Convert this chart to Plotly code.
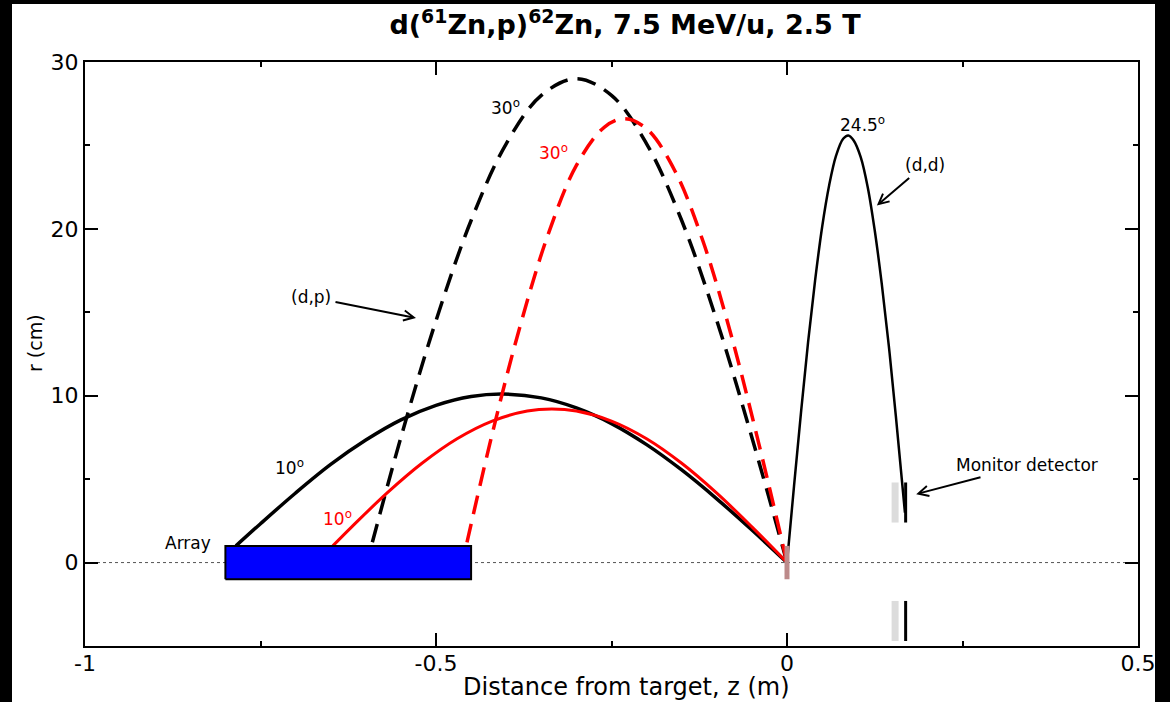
import plotly.graph_objects as go

# ---------------- data ----------------
# (d,p) 30 deg, black dashed
z_dp30_blk = [0.0, -0.05, -0.10, -0.15, -0.20, -0.25, -0.30, -0.35, -0.40, -0.45, -0.50, -0.55, -0.592]
r_dp30_blk = [0.0, 7.5, 14.5, 20.5, 25.1, 28.0, 29.0, 28.0, 25.1, 20.5, 14.5, 7.5, 1.0]
# (d,p) 30 deg, red dashed
z_dp30_red = [0.0, -0.04, -0.08, -0.12, -0.16, -0.20, -0.2315, -0.26, -0.30, -0.34, -0.38, -0.42, -0.457]
r_dp30_red = [0.0, 7.1, 13.7, 19.3, 23.5, 26.0, 26.6, 26.1, 23.8, 19.7, 14.2, 7.7, 1.0]
# (d,p) 10 deg, black solid
z_dp10_blk = [0.0, -0.05, -0.10, -0.15, -0.20, -0.25, -0.30, -0.35, -0.405, -0.45, -0.50, -0.55, -0.60, -0.65, -0.70, -0.75, -0.785]
r_dp10_blk = [0.0, 1.95, 3.82, 5.55, 7.07, 8.33, 9.27, 9.87, 10.1, 9.95, 9.42, 8.55, 7.34, 5.88, 4.17, 2.33, 1.0]
# (d,p) 10 deg, red solid
z_dp10_red = [0.0, -0.05, -0.10, -0.15, -0.20, -0.25, -0.30, -0.335, -0.37, -0.42, -0.47, -0.52, -0.57, -0.62, -0.647]
r_dp10_red = [0.0, 2.14, 4.16, 5.95, 7.42, 8.48, 9.08, 9.2, 9.08, 8.48, 7.42, 5.95, 4.16, 2.14, 1.0]
# (d,d) 24.5 deg, black thin
z_dd = [0.0, 0.01, 0.02, 0.03, 0.04, 0.05, 0.06, 0.07, 0.08, 0.0873, 0.095, 0.105, 0.115, 0.125, 0.135, 0.145, 0.155, 0.168]
r_dd = [0.0, 4.58, 9.02, 13.2, 16.9, 20.1, 22.6, 24.4, 25.4, 25.6, 25.3, 24.3, 22.5, 19.9, 16.7, 13.0, 8.8, 3.0]

# detectors
array_z = [-0.80, -0.45]
array_r = [-1.0, 1.0]
target_z = 0.0
target_r = [-1.0, 1.0]
monitor_gray_z = 0.154
monitor_blk_z = 0.169
monitor_upper_r = [2.4, 4.8]
monitor_lower_r = [-4.7, -2.3]

x_ticks = [-1, -0.5, 0, 0.5]
x_ticktext = ["-1", "-0.5", "0", "0.5"]
y_ticks = [0, 10, 20, 30]

FONT = "DejaVu Sans, Liberation Sans, Arial, sans-serif"

fig = go.Figure()

# dotted baseline r = 0
fig.add_trace(go.Scatter(x=[-1, 0.5], y=[0, 0], mode="lines",
                         line=dict(color="#555555", width=1, dash="dot"), hoverinfo="skip"))

DASH = "19px,10px"
# curves
fig.add_trace(go.Scatter(x=z_dp10_blk, y=r_dp10_blk, mode="lines", line_shape="spline",
                         line=dict(color="black", width=3.5)))
fig.add_trace(go.Scatter(x=z_dp30_blk, y=r_dp30_blk, mode="lines", line_shape="spline",
                         line=dict(color="black", width=3.5, dash=DASH)))
fig.add_trace(go.Scatter(x=z_dp10_red, y=r_dp10_red, mode="lines", line_shape="spline",
                         line=dict(color="#ff0000", width=3)))
fig.add_trace(go.Scatter(x=z_dp30_red, y=r_dp30_red, mode="lines", line_shape="spline",
                         line=dict(color="#ff0000", width=3.5, dash=DASH)))
fig.add_trace(go.Scatter(x=z_dd, y=r_dd, mode="lines", line_shape="spline",
                         line=dict(color="black", width=2.5)))

# array (blue box)
fig.add_trace(go.Scatter(x=[array_z[0], array_z[1], array_z[1], array_z[0], array_z[0]],
                         y=[array_r[0], array_r[0], array_r[1], array_r[1], array_r[0]],
                         mode="lines", fill="toself", fillcolor="#0000ff",
                         line=dict(color="black", width=2)))

# target
fig.add_trace(go.Scatter(x=[target_z, target_z], y=target_r, mode="lines",
                         line=dict(color="#bc8a8a", width=5)))

# monitor detectors
for rr in (monitor_upper_r, monitor_lower_r):
    fig.add_trace(go.Scatter(x=[monitor_gray_z, monitor_gray_z], y=rr, mode="lines",
                             line=dict(color="#dcdcdc", width=7)))
    fig.add_trace(go.Scatter(x=[monitor_blk_z, monitor_blk_z], y=rr, mode="lines",
                             line=dict(color="black", width=3)))

# plot-area geometry in pixels (for paper-referenced placement)
L, R, T, B = 85, 1138, 62, 646
W, H = R - L, B - T
def px(xp):
    return (xp - L) / W
def py(yp):
    return (B - yp) / H

ann_font = dict(family=FONT, size=17, color="black")
arrow_style = dict(xref="x", yref="y", axref="x", ayref="y", showarrow=True,
                   arrowhead=5, arrowsize=1, arrowwidth=2, arrowcolor="black",
                   standoff=0, startstandoff=3, font=ann_font)
annotations = [
    dict(x=-0.4017, y=27.3, text="30<sup>o</sup>", showarrow=False, font=ann_font),
    dict(x=-0.333, y=24.6, text="30<sup>o</sup>", showarrow=False, font=dict(ann_font, color="#ff0000")),
    dict(x=-0.709, y=5.75, text="10<sup>o</sup>", showarrow=False, font=ann_font),
    dict(x=-0.641, y=2.7, text="10<sup>o</sup>", showarrow=False, font=dict(ann_font, color="#ff0000")),
    dict(x=0.107, y=26.3, text="24.5<sup>o</sup>", showarrow=False, font=ann_font),
    dict(x=-0.853, y=1.15, text="Array", showarrow=False, font=ann_font),
    # labels with arrows (text sits at the arrow tail)
    dict(arrow_style, x=0.128, y=21.4, ax=0.1966, ay=23.85, text="(d,d)"),
    dict(arrow_style, x=-0.5285, y=14.66, ax=-0.678, ay=15.9, text="(d,p)"),
    dict(arrow_style, x=0.184, y=4.1, ax=0.342, ay=5.85, text="Monitor detector"),
    # axis titles
    dict(xref="paper", yref="paper", x=px(626), y=py(687), xanchor="center", yanchor="middle",
         text="Distance from target, z (m)", showarrow=False,
         font=dict(family=FONT, size=24, color="black")),
    dict(xref="paper", yref="paper", x=px(35), y=py(343), xanchor="center", yanchor="middle",
         text="r (cm)", textangle=-90, showarrow=False,
         font=dict(family=FONT, size=19, color="black")),
]

# black frame strips of the original image
shapes = [
    dict(type="rect", xref="paper", yref="paper", x0=px(0), x1=px(12), y0=py(702), y1=py(0),
         fillcolor="black", line_width=0, layer="above"),
    dict(type="rect", xref="paper", yref="paper", x0=px(1155), x1=px(1170), y0=py(702), y1=py(0),
         fillcolor="black", line_width=0, layer="above"),
    dict(type="rect", xref="paper", yref="paper", x0=px(0), x1=px(1170), y0=py(4), y1=py(0),
         fillcolor="black", line_width=0, layer="above"),
]

axis_common = dict(showline=True, linewidth=2, linecolor="black", mirror="ticks",
                   ticks="inside", ticklen=13, tickwidth=2, tickcolor="black",
                   showgrid=False, zeroline=False, automargin=False,
                   tickfont=dict(family=FONT, size=22, color="black"))

fig.update_layout(
    width=1170, height=702,
    margin=dict(l=L, r=1170 - R, t=T, b=702 - B, autoexpand=False),
    paper_bgcolor="white", plot_bgcolor="white",
    showlegend=False,
    title=dict(text="d(<sup>61</sup>Zn,p)<sup>62</sup>Zn, 7.5 MeV/u, 2.5 T",
               xref="container", x=625 / 1170, xanchor="center",
               yref="container", y=1 - 25 / 702, yanchor="middle",
               font=dict(family=FONT, size=27, color="black", weight="bold")),
    xaxis=dict(axis_common, range=[-1, 0.5], tickvals=x_ticks, ticktext=x_ticktext,
               ticklabelstandoff=-3,
               minor=dict(ticks="inside", ticklen=5, tickwidth=2, tickcolor="black", dtick=0.25, tick0=0)),
    yaxis=dict(axis_common, range=[-5, 30], tickvals=y_ticks,
               minor=dict(ticks="inside", ticklen=5, tickwidth=2, tickcolor="black", dtick=5, tick0=0)),
    annotations=annotations,
    shapes=shapes,
)

fig.write_html("out.html", config={"displayModeBar": False},
               post_script="document.body.style.margin='0px';document.body.style.overflow='hidden';")
